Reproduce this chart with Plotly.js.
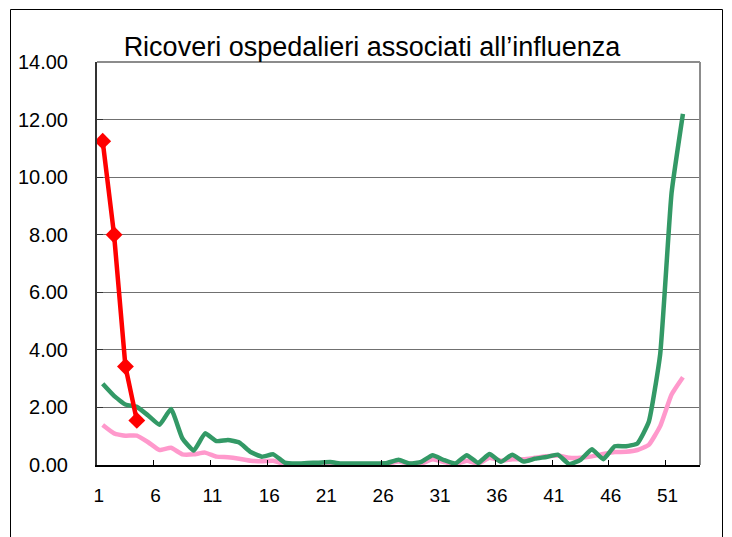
<!DOCTYPE html>
<html>
<head>
<meta charset="utf-8">
<script src="https://cdn.plot.ly/plotly-3.0.1.min.js"></script>
<style>
  html, body { margin: 0; padding: 0; background: #ffffff; }
  #chart { width: 732px; height: 537px; }
</style>
</head>
<body>
<div id="chart"></div>
<script>
// Weeks 1..52
const weeks = Array.from({length: 52}, (_, i) => i + 1);

// Current season (red, weeks 1-4)
const redWeeks = [1, 2, 3, 4];
const redValues = [11.25, 8.00, 3.42, 1.55];

// Dark green series
const greenValues = [
  2.82, 2.40, 2.10, 2.02, 1.72, 1.40, 1.95, 0.93, 0.50, 1.10,
  0.83, 0.87, 0.78, 0.45, 0.29, 0.37, 0.08, 0.05, 0.07, 0.08,
  0.10, 0.05, 0.05, 0.05, 0.05, 0.07, 0.18, 0.05, 0.11, 0.34,
  0.17, 0.05, 0.34, 0.07, 0.38, 0.11, 0.36, 0.12, 0.22, 0.28,
  0.36, 0.03, 0.18, 0.55, 0.20, 0.65, 0.65, 0.75, 1.50, 3.85,
  9.45, 12.20
];

// Pink series
const pinkValues = [
  1.39, 1.10, 1.02, 1.02, 0.79, 0.52, 0.60, 0.37, 0.37, 0.43,
  0.29, 0.27, 0.22, 0.15, 0.13, 0.15, 0.03, 0.02, 0.02, 0.03,
  0.03, 0.02, 0.02, 0.02, 0.02, 0.05, 0.12, 0.05, 0.05, 0.20,
  0.10, 0.03, 0.15, 0.05, 0.25, 0.15, 0.20, 0.20, 0.25, 0.30,
  0.33, 0.25, 0.25, 0.30, 0.38, 0.45, 0.46, 0.52, 0.70, 1.35,
  2.45, 3.05
];

const xTickLabels = ['1', '6', '11', '16', '21', '26', '31', '36', '41', '46', '51'];
const yTickVals = [0, 2, 4, 6, 8, 10, 12, 14];
const yTickText = ['0.00', '2.00', '4.00', '6.00', '8.00', '10.00', '12.00', '14.00'];

// label positions sit slightly left of the category centres in the reference
const xTickVals = xTickLabels.map(s => Number(s) - 0.35);
const xMinorVals = xTickLabels.slice(1).map(s => Number(s) - 0.5);

const titleText = 'Ricoveri ospedalieri associati all\u2019influenza';

const traces = [
  {
    x: weeks, y: pinkValues, type: 'scatter', mode: 'lines',
    line: {color: '#ff99cc', width: 4.5, shape: 'spline', smoothing: 0.4},
    hoverinfo: 'x+y', showlegend: false
  },
  {
    x: weeks, y: greenValues, type: 'scatter', mode: 'lines',
    line: {color: '#339966', width: 4.5, shape: 'spline', smoothing: 0.4},
    hoverinfo: 'x+y', showlegend: false
  },
  {
    x: redWeeks, y: redValues, type: 'scatter', mode: 'lines+markers',
    line: {color: '#ff0000', width: 4.5},
    marker: {symbol: 'diamond', size: 13, color: '#ff0000'},
    hoverinfo: 'x+y', showlegend: false
  }
];

const L = 97, R = 700, T = 62, B = 465, W = 732, H = 537;
const pw = R - L, ph = B - T;
function px(x) { return (x - L) / pw; }
function py(y) { return (B - y) / ph; }

const FONT = 'Liberation Sans, Arial, sans-serif';

const layout = {
  width: W, height: H,
  margin: {l: L, r: W - R, t: T, b: H - B, pad: 0},
  paper_bgcolor: '#ffffff',
  plot_bgcolor: '#ffffff',
  font: {family: FONT, color: '#000000', size: 19},
  title: {
    text: titleText,
    font: {family: FONT, size: 27, color: '#000000'},
    x: 372 / W, xanchor: 'center', xref: 'container',
    y: 1 - 47 / H, yanchor: 'middle', yref: 'container'
  },
  xaxis: {
    range: [0.5, 53.5],
    tickmode: 'array', tickvals: xTickVals, ticktext: xTickLabels,
    ticks: '', showgrid: false, zeroline: false,
    showline: true, linecolor: '#000000', linewidth: 2,
    tickfont: {size: 19, family: FONT},
    ticklabelstandoff: 12,
    minor: {tickmode: 'array', tickvals: xMinorVals, ticks: 'inside', ticklen: 5, tickcolor: '#000000', tickwidth: 1, showgrid: false}
  },
  yaxis: {
    range: [0, 14],
    tickmode: 'array', tickvals: yTickVals, ticktext: yTickText,
    ticks: 'inside', ticklen: 6, tickcolor: '#333333', tickwidth: 1,
    showgrid: true, gridcolor: '#707070', gridwidth: 1, zeroline: false,
    showline: true, linecolor: '#333333', linewidth: 2,
    tickfont: {size: 20, family: FONT},
    ticklabelstandoff: 23
  },
  shapes: [
    {type: 'line', xref: 'paper', yref: 'paper', x0: 0, x1: 1, y0: 1, y1: 1, line: {color: '#8c8c8c', width: 2}},
    {type: 'line', xref: 'paper', yref: 'paper', x0: 1, x1: 1, y0: 0, y1: 1, line: {color: '#8c8c8c', width: 2}},
    {type: 'rect', xref: 'paper', yref: 'paper', layer: 'below',
     x0: px(10.5), x1: px(722.5), y0: py(560), y1: py(9.5),
     line: {color: '#000000', width: 1}, fillcolor: 'rgba(0,0,0,0)'}
  ]
};

Plotly.newPlot('chart', traces, layout, {displayModeBar: false, staticPlot: true});
</script>
</body>
</html>
